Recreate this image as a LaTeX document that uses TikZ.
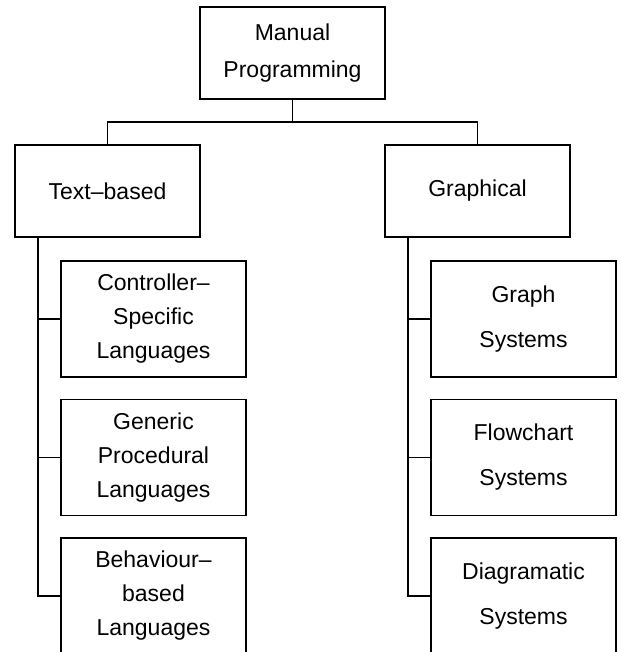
\documentclass[tikz,border=0pt]{standalone}
\usepackage{fontspec}
\setmainfont{Liberation Sans}
\usetikzlibrary{positioning}

\begin{document}
\begin{tikzpicture}[%show background rectangle,
        font=\fontsize{11.5}{17}\selectfont,
        box/.style={draw, line width=.6pt, minimum width=92.5pt,
                    inner sep=0pt, outer sep=0pt, align=center},
        topbox/.style={box, minimum height=46pt},
        subbox/.style={box, minimum height=58pt},
        leiter/.style={draw, line width=.6pt}
        ]
            \useasboundingbox (0,0) rectangle (310pt,-326pt);

            % Kaesten, obere Ebene
            \node[topbox] (man) at (146.25pt,-26.5pt) {Manual\\[1.5pt]Programming};
            \node[topbox, below left=23pt and 0pt of man.south west] (txt) {Text–based};
            \node[topbox, below right=23pt and 0pt of man.south east] (gra) {Graphical};

            % Kaesten, links
            \node[subbox, below right=12pt and 23pt of txt.south west] (ctl)
                {Controller–\\Specific\\Languages};
            \node[subbox, below=11.25pt of ctl] (gen)
                {Generic\\Procedural\\Languages};
            \node[subbox, below=11.25pt of gen] (beh)
                {Behaviour–\\based\\Languages};

            % Kaesten, rechts
            \node[subbox, below right=12pt and 23pt of gra.south west] (grs)
                {Graph\\[5.5pt]Systems};
            \node[subbox, below=11.25pt of grs] (flo)
                {Flowchart\\[5.5pt]Systems};
            \node[subbox, below=11.25pt of flo] (dia)
                {Diagramatic\\[5.5pt]Systems};

            % Leiter
            \draw[leiter] (man.south) -- ++(0,-11.5pt) -| (txt.north)
                          (man.south) -- ++(0,-11.5pt) -| (gra.north);

            \draw[leiter] ([xshift=11.5pt]txt.south west) |- (ctl.west)
                          ([xshift=11.5pt]txt.south west) |- (gen.west)
                          ([xshift=11.5pt]txt.south west) |- (beh.west);

            \draw[leiter] ([xshift=11.5pt]gra.south west) |- (grs.west)
                          ([xshift=11.5pt]gra.south west) |- (flo.west)
                          ([xshift=11.5pt]gra.south west) |- (dia.west);
        \end{tikzpicture}
\end{document}
